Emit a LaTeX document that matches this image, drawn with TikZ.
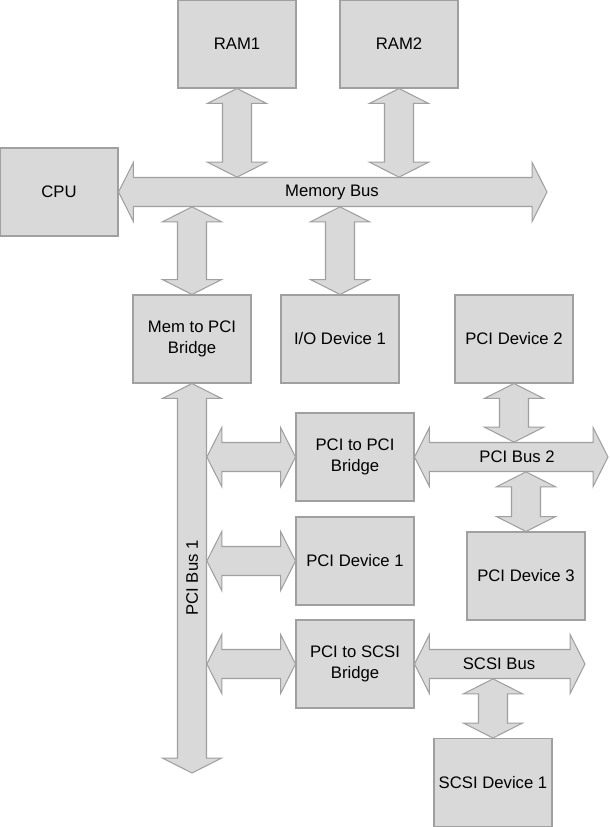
\documentclass[tikz,border=0pt]{standalone}
\usepackage{fontspec}
\setmainfont{Liberation Sans}
\usepackage{tikz}
\usetikzlibrary{calc}
\definecolor{boxfill}{HTML}{D9D9D9}
\definecolor{boxline}{HTML}{A0A0A0}
\newcommand\headlen{8.5pt}
\newcommand\headhalf{16.8pt}
\newcommand\shafthalf{8.25pt}

\begin{document}
\begin{tikzpicture}[
  x=0.02cm, y=-0.02cm,
  unit/.style={rectangle, draw=boxline, fill=boxfill, line width=0.6pt, align=center, minimum width=2.36cm, minimum height=1.76cm, inner sep=2pt, font=\fontsize{9.5}{12}\selectfont},
  buslabel/.style={inner sep=0pt, minimum height=0.58cm, font=\fontsize{9.5}{12}\selectfont},
  blockarrow/.style={draw=boxline, fill=boxfill, line width=0.6pt, line join=miter,
    to path={let \p1=(\tikztostart), \p2=(\tikztotarget),
      \n1={veclen(\x2-\x1,\y2-\y1)}, \n2={(\x2-\x1)/\n1}, \n3={(\y2-\y1)/\n1} in
      -- ({\x1+\n2*\headlen-\n3*\headhalf},{\y1+\n3*\headlen+\n2*\headhalf})
      -- ({\x1+\n2*\headlen-\n3*\shafthalf},{\y1+\n3*\headlen+\n2*\shafthalf})
      -- ({\x2-\n2*\headlen-\n3*\shafthalf},{\y2-\n3*\headlen+\n2*\shafthalf})
      -- ({\x2-\n2*\headlen-\n3*\headhalf},{\y2-\n3*\headlen+\n2*\headhalf})
      -- (\p2)
      -- ({\x2-\n2*\headlen+\n3*\headhalf},{\y2-\n3*\headlen-\n2*\headhalf})
      -- ({\x2-\n2*\headlen+\n3*\shafthalf},{\y2-\n3*\headlen-\n2*\shafthalf})
      -- ({\x1+\n2*\headlen+\n3*\shafthalf},{\y1+\n3*\headlen-\n2*\shafthalf})
      -- ({\x1+\n2*\headlen+\n3*\headhalf},{\y1+\n3*\headlen-\n2*\headhalf})
      -- cycle}}
]
\useasboundingbox (0,0) rectangle (609,827);

\node[unit] (ram1) at (237,44) {RAM1};
\node[unit] (ram2) at (399,44) {RAM2};
\node[unit] (cpu) at (59,192) {CPU};
\node[unit] (memtopci) at (192,339) {Mem to PCI\\Bridge};
\node[unit] (io1) at (340,339) {I/O Device 1};
\node[unit] (pcidev2) at (514,339) {PCI Device 2};
\node[unit] (pcitopci) at (355,457) {PCI to PCI\\Bridge};
\node[unit] (pcidev1) at (355,561) {PCI Device 1};
\node[unit] (pcitoscsi) at (355,664) {PCI to SCSI\\Bridge};
\node[unit] (pcidev3) at (526,576) {PCI Device 3};
\node[unit] (scsidev1) at (493,782.5) {SCSI Device 1};

% free ends of the buses
\coordinate (membusend) at (547,192);
\coordinate (pcibus1end) at (192,773);
\coordinate (pcibus2end) at (608,457);
\coordinate (scsibusend) at (585,664);

\draw[blockarrow] (cpu.east) to (membusend);
\draw[blockarrow] (memtopci.south) to (pcibus1end);
\draw[blockarrow] (pcitopci.east) to (pcibus2end);
\draw[blockarrow] (pcitoscsi.east) to (scsibusend);

\node[buslabel] (membus) at (332,192) {Memory Bus};
\node[buslabel, rotate=90] (pcibus1) at (192,578) {PCI Bus 1};
\node[buslabel] (pcibus2) at (517,457) {PCI Bus 2};
\node[buslabel] (scsibus) at (499,664) {SCSI Bus};

\draw[blockarrow] (ram1.south) to (ram1.south |- membus.north);
\draw[blockarrow] (ram2.south) to (ram2.south |- membus.north);
\draw[blockarrow] (memtopci.north) to (memtopci.north |- membus.south);
\draw[blockarrow] (io1.north) to (io1.north |- membus.south);
\draw[blockarrow] (pcitopci.west) to (pcitopci.west -| pcibus1.south);
\draw[blockarrow] (pcidev1.west) to (pcidev1.west -| pcibus1.south);
\draw[blockarrow] (pcitoscsi.west) to (pcitoscsi.west -| pcibus1.south);
\draw[blockarrow] (pcidev2.south) to (pcidev2.south |- pcibus2.north);
\draw[blockarrow] (pcidev3.north) to (pcidev3.north |- pcibus2.south);
\draw[blockarrow] (scsidev1.north) to (scsidev1.north |- scsibus.south);
\end{tikzpicture}
\end{document}
